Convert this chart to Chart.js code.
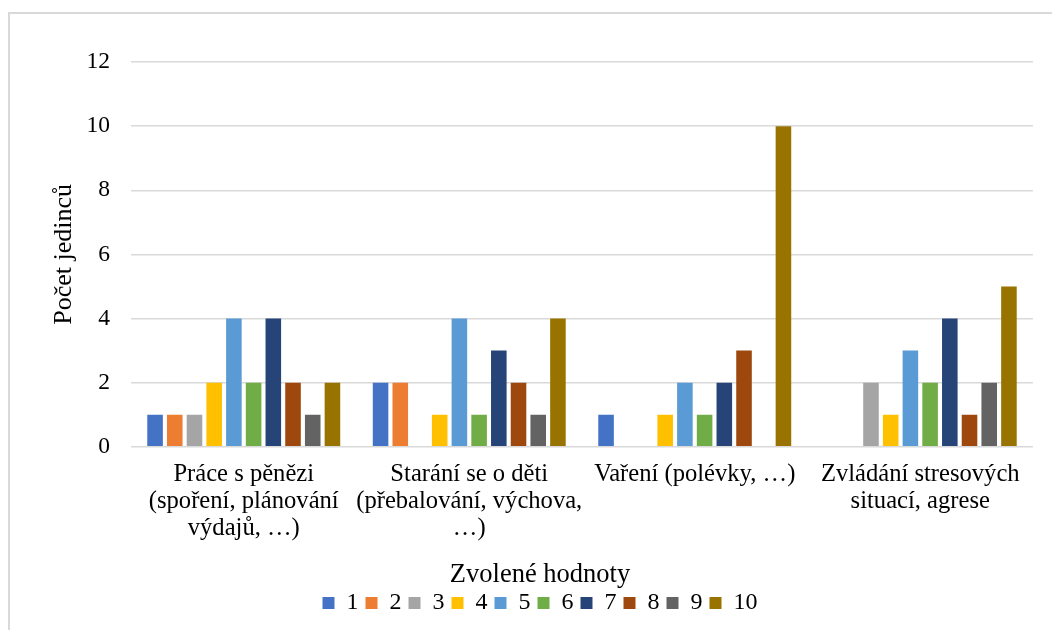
<!DOCTYPE html>
<html lang="cs">
<head>
<meta charset="utf-8">
<title>Zvolené hodnoty</title>
<script src="https://cdn.jsdelivr.net/npm/chart.js@4/dist/chart.umd.min.js"></script>
<style>
    html, body {
        margin: 0;
        padding: 0;
        background: #ffffff;
        overflow: hidden;
    }
    #frame {
        position: absolute;
        left: 8px;
        top: 12px;
        width: 1100px;
        height: 700px;
        border-left: 2px solid #d9d9d9;
        border-top: 2px solid #d9d9d9;
    }
    #wrap {
        position: absolute;
        left: 0;
        top: 0;
        width: 1052px;
        height: 630px;
    }
</style>
</head>
<body>
<div id="frame"></div>
<div id="wrap"><canvas id="barChart"></canvas></div>
<script>
const categories = [
    ['Práce s pěnězi', '(spoření, plánování', 'výdajů, …)'],
    ['Starání se o děti', '(přebalování, výchova,', '…)'],
    ['Vaření (polévky, …)'],
    ['Zvládání stresových', 'situací, agrese']
];

const seriesLabels = ['1', '2', '3', '4', '5', '6', '7', '8', '9', '10'];

// počty pro každou zvolenou hodnotu v pořadí kategorií
const value1 = [1, 2, 1, 0];
const value2 = [1, 2, 0, 0];
const value3 = [1, 0, 0, 2];
const value4 = [2, 1, 1, 1];
const value5 = [4, 4, 2, 3];
const value6 = [2, 1, 1, 2];
const value7 = [4, 3, 2, 4];
const value8 = [2, 2, 3, 1];
const value9 = [1, 1, 0, 2];
const value10 = [2, 4, 10, 5];

const yTicks = [0, 2, 4, 6, 8, 10, 12];

const seriesValues = [value1, value2, value3, value4, value5, value6, value7, value8, value9, value10];
const seriesColors = [
    '#4472c4', '#ed7d31', '#a5a5a5', '#ffc000', '#5b9bd5',
    '#70ad47', '#264478', '#9e480e', '#636363', '#997300'
];

const serif = '"Liberation Serif", "Times New Roman", serif';

function createBarChart() {
    const ctx = document.getElementById('barChart').getContext('2d');

    new Chart(ctx, {
        type: 'bar',
        data: {
            labels: categories,
            datasets: seriesLabels.map((label, i) => ({
                label: label,
                data: seriesValues[i],
                backgroundColor: seriesColors[i],
                borderWidth: 0,
                categoryPercentage: 0.874,
                barPercentage: 0.79
            }))
        },
        options: {
            responsive: true,
            maintainAspectRatio: false,
            animation: false,
            layout: {
                padding: { left: 47, right: 19, top: 62, bottom: 5 }
            },
            plugins: {
                tooltip: { enabled: false },
                legend: {
                    position: 'bottom',
                    title: {
                        display: true,
                        text: 'Zvolené hodnoty',
                        color: '#000000',
                        padding: { top: 5, bottom: 0 },
                        font: { family: serif, size: 26.5, lineHeight: '22px' }
                    },
                    labels: {
                        color: '#000000',
                        boxWidth: 12,
                        boxHeight: 12,
                        padding: 7,
                        font: { family: serif, size: 24 }
                    }
                }
            },
            scales: {
                x: {
                    grid: { display: false, drawTicks: false },
                    border: { display: false },
                    ticks: {
                        color: '#000000',
                        padding: 14.5,
                        maxRotation: 0,
                        autoSkip: false,
                        font: { family: serif, size: 24.6, lineHeight: 1.1 }
                    }
                },
                y: {
                    min: 0,
                    max: 12,
                    afterFit: (scale) => { scale.width = 84; },
                    afterBuildTicks: (scale) => {
                        scale.ticks = yTicks.map(v => ({ value: v }));
                    },
                    grid: {
                        color: '#d9d9d9',
                        lineWidth: 1.5,
                        drawTicks: false
                    },
                    border: { display: false },
                    title: {
                        display: true,
                        text: 'Počet jedinců',
                        color: '#000000',
                        padding: { top: 2, bottom: 0 },
                        font: { family: serif, size: 26 }
                    },
                    ticks: {
                        color: '#000000',
                        padding: 21,
                        font: { family: serif, size: 23.5 }
                    }
                }
            }
        }
    });
}

document.addEventListener('DOMContentLoaded', createBarChart);
</script>
</body>
</html>
